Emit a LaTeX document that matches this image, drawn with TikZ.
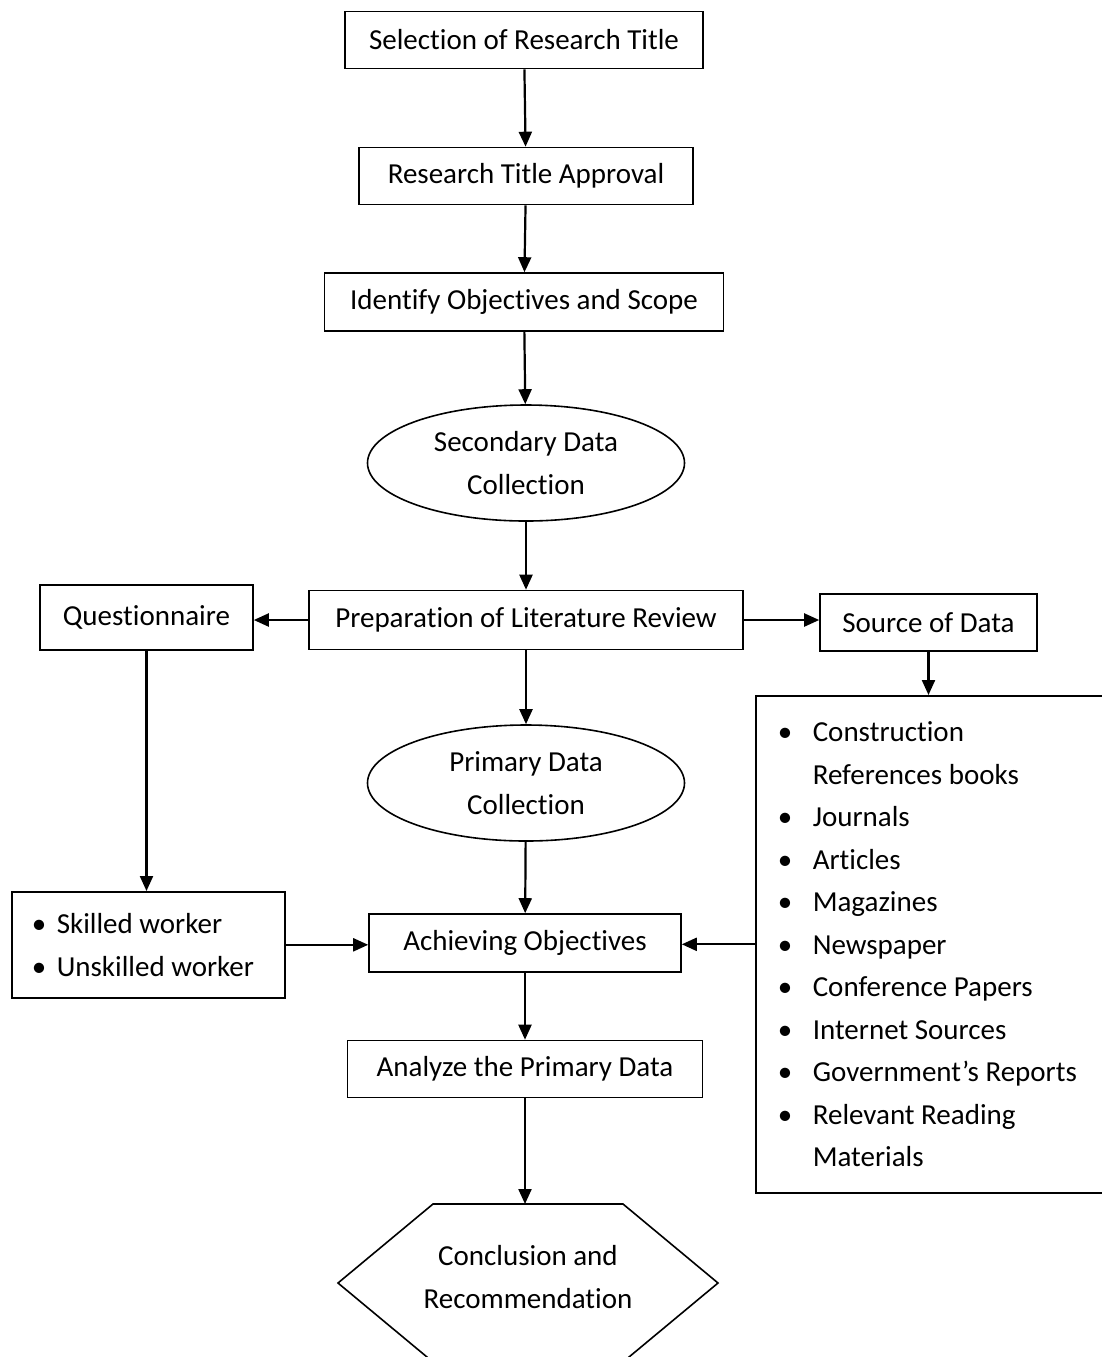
\documentclass[tikz,border=0pt]{standalone}
\usepackage{fontspec}
\setmainfont{Carlito}[Ligatures=NoCommon]
\usetikzlibrary{arrows.meta, positioning, shapes.geometric}
\newcommand{\bitem}[2][17.5pt]{\makebox[#1][l]{•}#2}

\begin{document}
\begin{tikzpicture}[x=0.5pt, y=-0.5pt, every node/.style={font=\fontsize{14.5pt}{21.25pt}\selectfont}]
  \tikzset{stepbox/.style={draw, line width=0.8pt, minimum height=28.5pt, inner sep=0pt}}
  \tikzset{oval/.style={draw, ellipse, line width=0.8pt, minimum width=158.5pt, minimum height=58pt, inner sep=0pt, align=center}}
  \tikzset{arr/.style={-{Triangle[length=7.5pt, width=6.5pt]}, line width=1.1pt}}
  \useasboundingbox (0,0) rectangle (1102,1357);
  % main column
  \node[stepbox, minimum width=179pt] (title) at (524,40) {Selection of Research Title};
  \node[stepbox, minimum width=167pt] (approval) at (526,176) {Research Title Approval};
  \node[stepbox, minimum width=199.5pt, minimum height=29pt] (scope) at (524,302) {Identify Objectives and Scope};
  \node[oval] (secondary) at (526,463) {Secondary Data\\Collection};
  \node[stepbox, minimum width=217pt, minimum height=29.5pt] (review) at (526,620) {Preparation of Literature Review};
  \node[oval] (primary) at (526,783) {Primary Data\\Collection};
  \node[stepbox, minimum width=156pt, minimum height=29pt] (achieve) at (525,943) {Achieving Objectives};
  \node[stepbox, minimum width=177.5pt] (analyze) at (525,1069) {Analyze the Primary Data};
  \draw[line width=0.8pt] (433,1204) -- (623,1204) -- (718,1283) -- (623,1362) -- (433,1362) -- (338,1283) -- cycle;
  \node[align=center] (concl) at (528,1277) {Conclusion and\\Recommendation};
  \coordinate (hextop) at (525,1204);
  % side boxes
  \node[stepbox, minimum width=106.5pt, minimum height=32.5pt] (quest) at (146.5,617.5) {Questionnaire};
  \node[stepbox, minimum width=108.5pt] (source) at (928.5,622.5) {Source of Data};
  \node[draw, line width=0.8pt, anchor=north west, minimum height=53pt, text width=116.5pt,
    inner xsep=10pt, inner ysep=0pt, align=left] (worker) at (11,891)
    {\spaceskip=0pt\xspaceskip=0pt
     \bitem[12.5pt]{Skilled worker}\\\bitem[12.5pt]{Unskilled worker}};
  \node[draw, line width=0.8pt, anchor=north west, minimum height=248.5pt, text width=160.5pt,
    inner xsep=11pt, inner ysep=0pt, align=left] (srclist) at (755,695)
    {\spaceskip=0pt\xspaceskip=0pt
     \bitem{Construction}\\\hspace*{17.5pt}References books\\\bitem{Journals}\\\bitem{Articles}\\
     \bitem{Magazines}\\\bitem{Newspaper}\\\bitem{Conference Papers}\\\bitem{Internet Sources}\\
     \bitem{Government’s Reports}\\\bitem{Relevant Reading}\\\hspace*{17.5pt}Materials};
  % connectors
  \draw[arr] (title) -- (approval);
  \draw[arr] (approval) -- (scope);
  \draw[arr] (scope) -- (secondary);
  \draw[arr] (secondary) -- (review);
  \draw[arr] (review.west) -- (review.west -| quest.east);
  \draw[arr] (review.east) -- (review.east -| source.west);
  \draw[arr] (source.south) -- (source.south |- srclist.north);
  \draw[arr] (review) -- (primary);
  \draw[arr] (quest.south) -- (quest.south |- worker.north);
  \draw[arr] (primary) -- (achieve);
  \draw[arr] (worker.east) -- (worker.east -| achieve.west);
  \draw[arr] (srclist.west) -- (srclist.west -| achieve.east);
  \draw[arr] (achieve) -- (analyze);
  \draw[arr] (analyze) -- (hextop);
\end{tikzpicture}
\end{document}
